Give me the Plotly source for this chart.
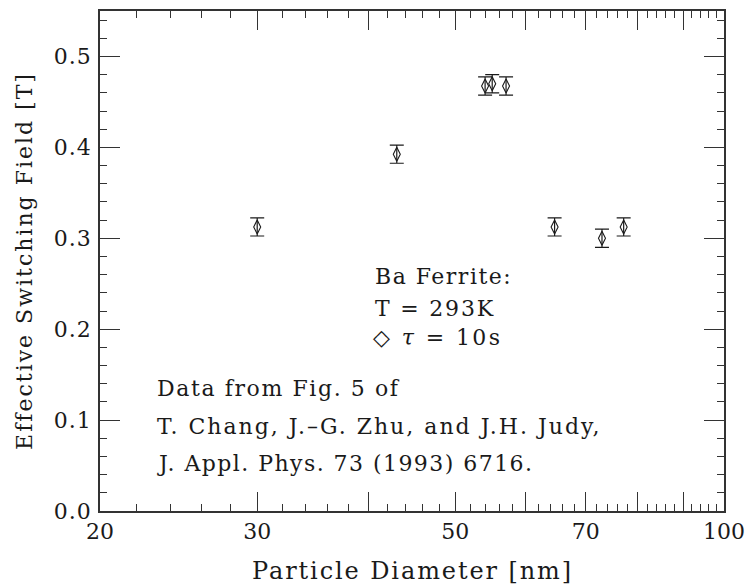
import plotly.graph_objects as go

# Ba ferrite switching field vs particle diameter
diameter_nm = [30, 43, 54, 55, 57, 64.6, 73, 77.2]
switching_field_T = [0.3125, 0.3925, 0.4675, 0.47, 0.4675, 0.3125, 0.30, 0.3125]
field_error_T = [0.01, 0.01, 0.01, 0.01, 0.01, 0.01, 0.01, 0.01]

x_major = [20, 30, 40, 50, 60, 70, 80, 90, 100]
x_major_text = ["20", "30", "", "50", "", "70", "", "", "100"]
x_minor = [v for v in range(22, 100, 2) if v % 10 != 0]
y_major = [0.0, 0.1, 0.2, 0.3, 0.4, 0.5]
y_major_text = ["0.0", "0.1", "0.2", "0.3", "0.4", "0.5"]
y_minor = [round(0.02 * i, 2) for i in range(0, 28) if i % 5 != 0]

FONT = "DejaVu Serif"
INK = "#1a1a1a"
AXIS = "#333333"


def spaced(text, px):
    """Wrap text in a span with extra letter spacing."""
    return f'<span style="letter-spacing:{px}px">{text}</span>'


fig = go.Figure()
fig.add_trace(go.Scatter(
    x=diameter_nm, y=switching_field_T, mode="markers",
    marker=dict(symbol="diamond-tall-open", size=10, color=INK,
                line=dict(width=1.1, color=INK)),
    error_y=dict(type="data", array=field_error_T, visible=True,
                 color=INK, thickness=1.2, width=7),
    showlegend=False,
))

axis_common = dict(
    showgrid=False, zeroline=False, showline=True, linecolor=AXIS, linewidth=1.5,
    mirror="allticks", ticks="inside", tickcolor=AXIS, tickwidth=1.2,
    tickfont=dict(family=FONT, size=22, color=INK),
)

fig.update_xaxes(
    type="log", range=[1.30103, 2.0],
    tickmode="array", tickvals=x_major, ticktext=x_major_text, ticklen=19,
    minor=dict(tickmode="array", tickvals=x_minor, ticks="inside", ticklen=7,
               tickcolor=AXIS, tickwidth=1.2, showgrid=False),
    **axis_common,
)
fig.update_yaxes(
    range=[0, 0.55],
    tickmode="array", tickvals=y_major,
    ticktext=[spaced(t, 1) for t in y_major_text], ticklen=20,
    ticklabelstandoff=2,
    minor=dict(tickmode="array", tickvals=y_minor, ticks="inside", ticklen=7,
               tickcolor=AXIS, tickwidth=1.2, showgrid=False),
    title=dict(text=spaced("Effective Switching Field [T]", 2.0),
               font=dict(family=FONT, size=22, color=INK), standoff=15),
    **axis_common,
)

# x-axis title, placed just below the tick labels
fig.add_annotation(text=spaced("Particle Diameter [nm]", 1.9), x=0.5, y=-0.12,
                   xref="paper", yref="paper", xanchor="center", yanchor="middle",
                   showarrow=False, font=dict(family=FONT, size=24, color=INK))

notes = [
    ("Ba Ferrite:", 1.5, 0.438, 0.470),
    ("T = 293K", 1.8, 0.438, 0.406),
    ("\u25c7 <i>\u03c4</i> = 10s", 2.4, 0.434, 0.348),
    ("Data from Fig. 5 of", 1.6, 0.088, 0.245),
    ("T. Chang, J.\u2013G. Zhu, and J.H. Judy,", 2.0, 0.088, 0.170),
    ("J. Appl. Phys. 73 (1993) 6716.", 1.45, 0.088, 0.095),
]
for text, ls, px, py in notes:
    fig.add_annotation(text=spaced(text, ls), x=px, y=py, xref="paper", yref="paper",
                       xanchor="left", yanchor="middle", showarrow=False,
                       font=dict(family=FONT, size=22, color=INK))

fig.update_layout(
    width=754, height=585,
    margin=dict(l=100, r=26, t=9, b=74),
    paper_bgcolor="white", plot_bgcolor="white",
)

fig.write_html("out.html")
